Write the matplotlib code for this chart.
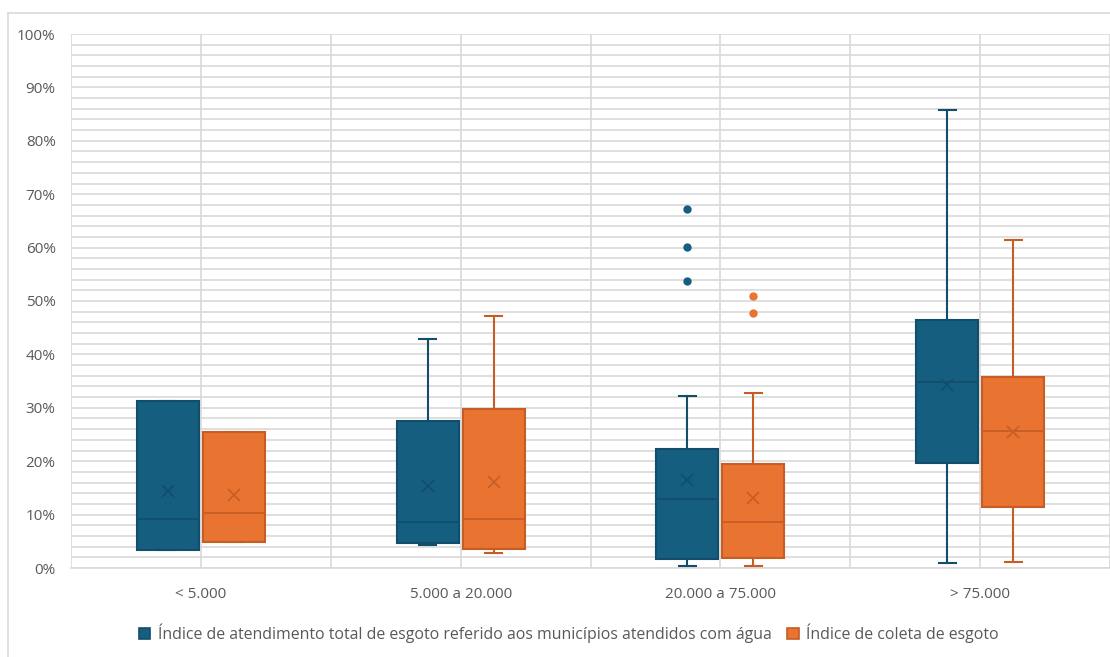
import matplotlib
matplotlib.use("Agg")
import matplotlib.pyplot as plt
from matplotlib.lines import Line2D
from matplotlib.patches import Patch
import numpy as np

plt.rcParams['font.family'] = ['Open Sans', 'DejaVu Sans']

categories = ["< 5.000", "5.000 a 20.000", "20.000 a 75.000", "> 75.000"]
series_names = ["Índice de atendimento total de esgoto referido aos municípios atendidos com água",
                "Índice de coleta de esgoto"]

# values in %: whisker low, Q1, median, Q3, whisker high, mean, outliers
blue_wlo = [3.3, 4.4, 0.3, 0.9]
blue_q1 = [3.3, 4.6, 1.6, 19.7]
blue_med = [9.1, 8.6, 13.0, 34.8]
blue_q3 = [31.2, 27.6, 22.3, 46.4]
blue_whi = [31.2, 42.8, 32.2, 85.8]
blue_mean = [14.4, 15.4, 16.4, 34.3]
blue_fliers = [[], [], [67.2, 60.2, 53.7], []]

orange_wlo = [4.8, 2.9, 0.3, 1.1]
orange_q1 = [4.8, 3.5, 1.9, 11.5]
orange_med = [10.3, 9.1, 8.6, 25.7]
orange_q3 = [25.5, 29.8, 19.5, 35.8]
orange_whi = [25.5, 47.2, 32.7, 61.4]
orange_mean = [13.7, 16.1, 13.2, 25.5]
orange_fliers = [[], [], [50.9, 47.8], []]

blue_fill, blue_edge = "#165E80", "#124E6C"
orange_fill, orange_edge = "#E97331", "#C65D25"
grid_c = "#D9D9D9"
text_c = "#595959"

W, H = 1110, 657
fig = plt.figure(figsize=(W / 100, H / 100), dpi=100)
ax = fig.add_axes([71 / W, 1 - 568 / H, (1110 - 71) / W, (568 - 34) / H])

# chart border
fig.add_artist(Line2D([8 / W, 1.0], [1 - 13 / H, 1 - 13 / H], color=grid_c, lw=1.2, transform=fig.transFigure))
fig.add_artist(Line2D([8 / W, 8 / W], [0, 1 - 13 / H], color=grid_c, lw=1.2, transform=fig.transFigure))

def stats(wlo, q1, med, q3, whi, mean, fl):
    return [dict(whislo=wlo[i], q1=q1[i], med=med[i], q3=q3[i], whishi=whi[i],
                 mean=mean[i], fliers=fl[i]) for i in range(len(wlo))]

x = np.arange(len(categories))
off, bw, cw = 0.127, 0.238, 0.065

for st, pos, fill, edge in [
    (stats(blue_wlo, blue_q1, blue_med, blue_q3, blue_whi, blue_mean, blue_fliers), x - off, blue_fill, blue_edge),
    (stats(orange_wlo, orange_q1, orange_med, orange_q3, orange_whi, orange_mean, orange_fliers), x + off, orange_fill, orange_edge),
]:
    ax.bxp(st, positions=pos, widths=bw, capwidths=cw, patch_artist=True, showmeans=True,
           boxprops=dict(facecolor=fill, edgecolor=edge, lw=1.5),
           medianprops=dict(color=edge, lw=1.3),
           whiskerprops=dict(color=edge, lw=1.5),
           capprops=dict(color=edge, lw=1.5),
           meanprops=dict(marker='x', markeredgecolor=edge, markersize=9, markeredgewidth=1.2),
           flierprops=dict(marker='o', markerfacecolor=fill, markeredgecolor=fill, markersize=5),
           zorder=3)

ax.set_xlim(-0.5, 3.5)
ax.set_ylim(0, 100)
ax.set_yticks(np.arange(0, 101, 10))
ax.set_yticklabels([f"{v}%" for v in range(0, 101, 10)])
ax.set_yticks(np.arange(0, 101, 2), minor=True)
ax.set_xticks(x)
ax.set_xticklabels(categories)
ax.set_xticks(np.arange(-0.5, 3.6, 0.5), minor=True)
ax.grid(True, which='both', axis='y', color=grid_c, lw=1.2, zorder=0)
ax.grid(True, which='both', axis='x', color=grid_c, lw=1.2, zorder=0)
ax.set_axisbelow(True)
for s in ['top', 'right', 'left']:
    ax.spines[s].set_visible(False)
ax.spines['bottom'].set_color(grid_c)
ax.spines['bottom'].set_linewidth(1.2)
ax.tick_params(which='both', length=0)
ax.tick_params(axis='y', pad=11, labelsize=11, labelcolor=text_c)
ax.tick_params(axis='x', pad=14, labelsize=11, labelcolor=text_c)

handles = [Patch(facecolor=blue_fill, edgecolor=blue_edge, lw=1.2),
           Patch(facecolor=orange_fill, edgecolor=orange_edge, lw=1.2)]
fig.legend(handles, series_names, loc='center', bbox_to_anchor=(569 / W, 1 - 633 / H), ncol=2,
           frameon=False, fontsize=11.4, labelcolor=text_c, handlelength=0.7, handleheight=0.7,
           handletextpad=0.5, columnspacing=1.0)

fig.savefig("out.png", dpi=100)
